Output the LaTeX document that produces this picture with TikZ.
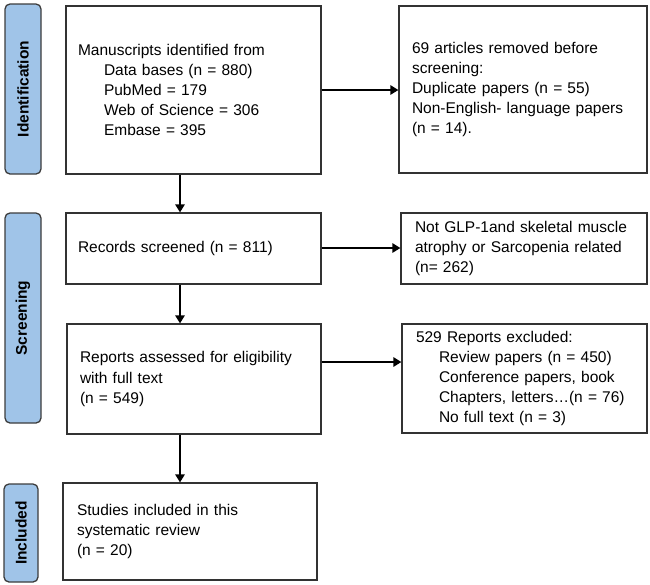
\documentclass[tikz,border=0pt]{standalone}
\usepackage{fontspec}
\setmainfont{Liberation Sans}
\usetikzlibrary{arrows.meta}
\definecolor{boxgray}{RGB}{50,50,50}
\definecolor{sidefill}{RGB}{160,196,232}
\definecolor{sidedraw}{RGB}{60,60,60}
\tikzset{
  box/.style={draw=boxgray, line width=1.3pt, rectangle, align=left,
    font=\fontsize{15.5}{20.2}\selectfont, inner ysep=0pt},
  side/.style={draw=sidedraw, fill=sidefill, line width=1.3pt, rounded corners=5pt,
    inner sep=0pt, font=\bfseries\fontsize{15.5}{18}\selectfont},
  arr/.style={line width=1.5pt, draw=black, -{Triangle[length=8pt,width=9.5pt]}}
}
\newcommand{\ind}[1]{\hspace*{#1pt}}
\begin{document}
\begin{tikzpicture}[x=1pt,y=-1pt]
\useasboundingbox (0,0) rectangle (650,584);
% sidebars
\node[side, minimum width=36pt, minimum height=170pt] (s1) at (23,89) {\rotatebox{90}{Identification}};
\node[side, minimum width=36pt, minimum height=210pt] (s2) at (23,318) {\rotatebox{90}{Screening}};
\node[side, minimum width=34pt, minimum height=98pt] (s3) at (21,533) {\rotatebox{90}{Included}};
% boxes
\node[box, minimum width=255pt, minimum height=168pt, text width=231pt, inner xsep=12pt] (b1) at (193.5,90)
 {Manuscripts identified from\\\ind{26}Data bases (n = 880)\\\ind{26}PubMed = 179\\\ind{26}Web of Science = 306\\\ind{26}Embase = 395};
\node[box, minimum width=248pt, minimum height=167pt, text width=222pt, inner xsep=13pt] (b2) at (523,89.5)
 {69 articles removed before\\screening:\\Duplicate papers (n = 55)\\Non-English- language papers\\(n = 14).};
\node[box, minimum width=255pt, minimum height=71pt, text width=231pt, inner xsep=12pt] (b3) at (193.5,248.5)
 {Records screened (n = 811)};
\node[box, minimum width=246pt, minimum height=71pt, text width=218pt, inner xsep=14pt] (b4) at (524,248.5)
 {Not GLP-1and skeletal muscle\\atrophy or Sarcopenia related\\(n= 262)};
\node[box, minimum width=254pt, minimum height=110pt, text width=228pt, inner xsep=13pt] (b5) at (194,379)
 {Reports assessed for eligibility\\with full text\\(n = 549)};
\node[box, minimum width=245pt, minimum height=109pt, text width=217pt, inner xsep=14pt] (b6) at (524.5,378.5)
 {529 Reports excluded:\\\ind{23}Review papers (n = 450)\\\ind{23}Conference papers, book\\\ind{23}Chapters, letters…(n = 76)\\\ind{23}No full text (n = 3)};
\node[box, minimum width=254pt, minimum height=97pt, text width=226pt, inner xsep=14pt] (b7) at (190,531.5)
 {Studies included in this\\systematic review\\(n = 20)};
% helper coordinates
\coordinate (cx) at (180,0);
\coordinate (r1) at (0,90);
\coordinate (r3) at (0,248);
\coordinate (r5) at (0,362);
% connectors
\draw[arr] (b1.east |- r1) -- (b2.west |- r1);
\draw[arr] (b3.east |- r3) -- (b4.west |- r3);
\draw[arr] (b5.east |- r5) -- (b6.west |- r5);
\draw[arr] (b1.south -| cx) -- (b3.north -| cx);
\draw[arr] (b3.south -| cx) -- (b5.north -| cx);
\draw[arr] (b5.south -| cx) -- (b7.north -| cx);
\end{tikzpicture}
\end{document}
